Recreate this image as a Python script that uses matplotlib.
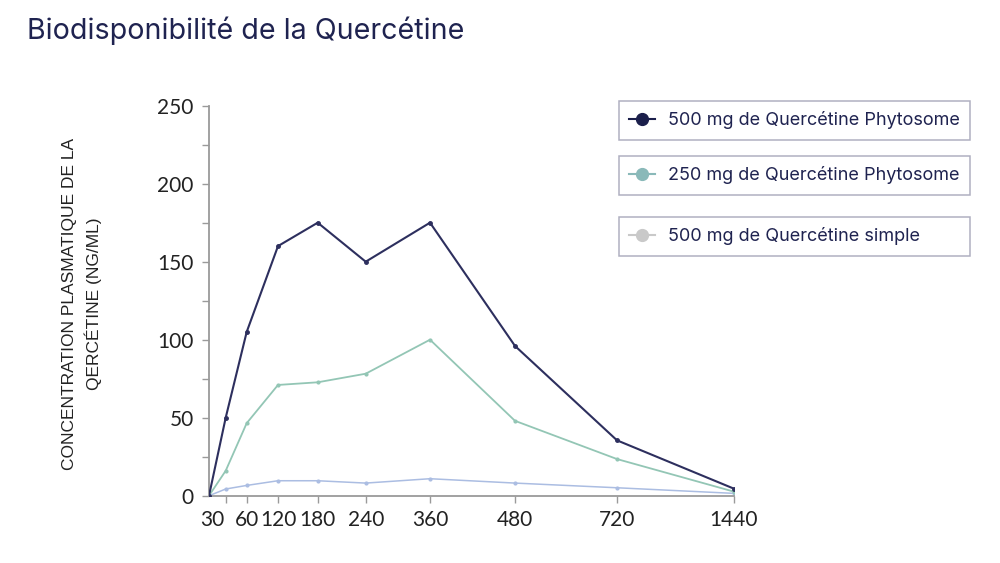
import numpy as np
import matplotlib
matplotlib.use("Agg")
import matplotlib.pyplot as plt
from matplotlib.lines import Line2D
from matplotlib.ticker import MultipleLocator
import matplotlib.transforms as mtransforms

# ---- data ----
times = [0, 30, 60, 120, 180, 240, 360, 480, 720, 1440]
tick_labels = ["30", "60", "120", "180", "240", "360", "480", "720", "1440"]
phyto500 = [0, 50, 105, 160, 175, 150, 175, 96, 35.5, 4.5]
phyto250 = [0, 16, 46.5, 71, 72.7, 78.2, 100, 48, 23.5, 2.6]
simple500 = [0, 4.3, 6.6, 9.6, 9.6, 8.1, 10.9, 8.1, 5.1, 1.5]
series_names = ["500 mg de Quercétine Phytosome",
                "250 mg de Quercétine Phytosome",
                "500 mg de Quercétine simple"]
title = "Biodisponibilité de la Quercétine"
ylabel = "CONCENTRATION PLASMATIQUE DE LA\nQERCÉTINE (NG/ML)"

# ---- style ----
navy = "#2d2f5e"
teal = "#93c6b5"
lightblue = "#abbde2"
leg_colors = ["#1b1f4b", "#8ab9b9", "#c9c9c9"]
text_dark = "#1f2350"
axis_grey = "#9a9a9a"

# piecewise-linear time axis (as in the original chart)
scale_t = np.array([0, 30, 60, 120, 180, 240, 360, 480, 720, 1440], float)
scale_u = np.array([0, 16.7, 37.7, 69, 108.7, 156.7, 221, 306, 408, 525], float)

def fwd(x):
    return np.interp(x, scale_t, scale_u)

def inv(u):
    return np.interp(u, scale_u, scale_t)

fig = plt.figure(figsize=(10, 5.63), dpi=100)
ax = fig.add_axes([0.209, 0.1195, 0.525, 0.6928])
ax.set_xscale("function", functions=(fwd, inv))

ax.plot(times, simple500, color=lightblue, lw=1.1, marker="o", ms=2, zorder=2)
ax.plot(times, phyto250, color=teal, lw=1.3, marker="o", ms=2, zorder=3)
ax.plot(times, phyto500, color=navy, lw=1.5, marker="o", ms=2.5, zorder=4)

ax.set_xlim(0, 1440)
ax.set_ylim(0, 250)
for s in ["top", "right"]:
    ax.spines[s].set_visible(False)
for s in ["left", "bottom"]:
    ax.spines[s].set_color(axis_grey)
    ax.spines[s].set_linewidth(1.3)

ax.set_xticks(times[1:])
ax.set_xticklabels(tick_labels)
ax.yaxis.set_major_locator(MultipleLocator(50))
ax.yaxis.set_minor_locator(MultipleLocator(25))
ax.tick_params(axis="both", which="both", color=axis_grey, width=1, length=5,
               labelsize=15, labelcolor="#222222")
ax.tick_params(axis="y", pad=6)
ax.tick_params(axis="x", pad=5)
for lab in ax.get_xticklabels() + ax.get_yticklabels():
    lab.set_fontfamily("Lato")
# shift the crowded "30" label slightly left
xl = ax.get_xticklabels()[0]
xl.set_transform(xl.get_transform() + mtransforms.ScaledTranslation(-13/100, 0, fig.dpi_scale_trans))

fig.text(0.082, 0.46, ylabel, rotation=90, ha="center", va="center",
         fontsize=12.5, family="Liberation Sans", color="#222222", linespacing=1.55)

fig.text(0.027, 0.946, title, fontsize=20.6, family="Inter", color=text_dark,
         ha="left", va="center")

# separate legend boxes
box_tops = [101, 155.7, 217]
for name, col, top in zip(series_names, leg_colors, box_tops):
    h = Line2D([0], [0], color=col, marker="o", ms=8.5, lw=1.5)
    y_top = 1 - top / 563
    leg = fig.legend([h], [name], loc="upper left",
                     bbox_to_anchor=(0.619, y_top - 0.074, 0.351, 0.074),
                     mode="expand", borderaxespad=0, frameon=True, fancybox=False,
                     handlelength=1.4, handletextpad=0.75, borderpad=0.58,
                     prop={"family": "Inter", "size": 13})
    leg.get_frame().set_edgecolor("#9c9cb2")
    leg.get_frame().set_linewidth(1.1)
    for t in leg.get_texts():
        t.set_color(text_dark)

fig.savefig("out.png", dpi=100)
